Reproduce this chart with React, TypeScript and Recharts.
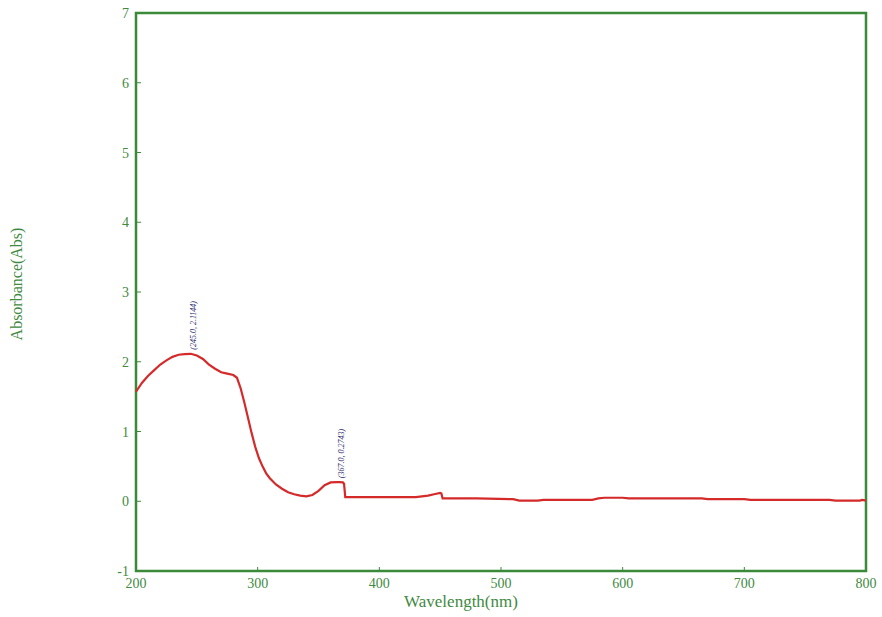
import React from 'react';
import { LineChart, Line, XAxis, YAxis, ReferenceArea, ReferenceDot } from 'recharts';

const wavelengths = [200,205,210,215,220,225,230,235,240,245,250,255,260,265,270,275,280,283,286,289,292,295,298,301,304,307,310,315,320,325,330,335,340,345,350,355,360,365,367,370,371,372,400,430,440,445,450,451,452,480,510,515,530,535,575,580,585,600,605,665,670,700,705,770,775,795,797,800];
const absorbance = [1.57,1.70,1.80,1.88,1.96,2.02,2.07,2.10,2.11,2.114,2.09,2.04,1.96,1.90,1.85,1.83,1.81,1.77,1.62,1.42,1.20,0.98,0.78,0.62,0.50,0.40,0.33,0.24,0.18,0.13,0.10,0.08,0.07,0.09,0.15,0.23,0.27,0.275,0.2743,0.27,0.25,0.06,0.06,0.06,0.08,0.10,0.12,0.11,0.04,0.04,0.03,0.01,0.01,0.02,0.02,0.04,0.05,0.05,0.04,0.04,0.03,0.03,0.02,0.02,0.01,0.01,0.02,0.01];

const xTicks = [200,300,400,500,600,700,800];
const yTicks = [-1,0,1,2,3,4,5,6,7];

const peaks = [
  { x: 245, y: 2.1144, label: '(245.0, 2.1144)' },
  { x: 367, y: 0.2743, label: '(367.0, 0.2743)' },
];

const data = wavelengths.map((w, i) => ({ w, a: absorbance[i] }));

const GREEN = '#3a8a3a';
const TEXT_GREEN = '#418a3f';
const FONT = '"Liberation Serif", "Times New Roman", serif';

const YTick = (props: any) => {
  const { x, y, payload } = props;
  return (
    <g>
      <text x={x} y={y} dy={5} textAnchor="end" fill={TEXT_GREEN} fontSize={14} fontFamily={FONT}>{payload.value}</text>
      {payload.value !== -1 && payload.value !== 7 && (
        <line x1={x + 7} x2={x + 12} y1={y} y2={y} stroke={GREEN} strokeWidth={1} />
      )}
    </g>
  );
};

const XTick = (props: any) => {
  const { x, y, payload } = props;
  return (
    <g>
      <text x={x} y={y} dy={12} textAnchor="middle" fill={TEXT_GREEN} fontSize={14} fontFamily={FONT}>{payload.value}</text>
      {payload.value !== 200 && payload.value !== 800 && (
        <line x1={x} x2={x} y1={y - 5} y2={y - 9} stroke={GREEN} strokeWidth={1} />
      )}
    </g>
  );
};

const PeakLabel = (text: string) => (props: any) => {
  const { cx, cy } = props;
  const tx = cx + 5;
  const ty = cy - 4;
  return (
    <text x={tx} y={ty} transform={`rotate(-90, ${tx}, ${ty})`} textAnchor="start" fontSize={8} fontStyle="italic" fill="#2b2b70" fontFamily={FONT}>{text}</text>
  );
};

export default function App() {
  return (
    <div style={{ position: 'absolute', left: 0, top: 0, background: '#fff' }}>
      <LineChart width={882} height={617} data={data} margin={{ top: 13, right: 16, left: 0, bottom: 0 }}>
        <XAxis
          dataKey="w"
          type="number"
          domain={[200, 800]}
          ticks={xTicks}
          height={46}
          axisLine={false}
          tickLine={false}
          tickSize={0}
          tickMargin={5}
          tick={<XTick />}
          label={{
            content: (p: any) => {
              const vb = p.viewBox;
              return (
                <text x={vb.x + vb.width / 2 - 40} y={vb.y + 36} textAnchor="middle" fill={TEXT_GREEN} fontSize={17} fontFamily={FONT}>Wavelength(nm)</text>
              );
            },
          }}
        />
        <YAxis
          type="number"
          domain={[-1, 7]}
          ticks={yTicks}
          width={136}
          axisLine={false}
          tickLine={false}
          tickSize={0}
          tickMargin={7}
          tick={<YTick />}
          label={{
            content: (p: any) => {
              const vb = p.viewBox;
              const cx = 22;
              const cy = vb.y + vb.height / 2 - 8;
              return (
                <text x={cx} y={cy} transform={`rotate(-90, ${cx}, ${cy})`} textAnchor="middle" fill={TEXT_GREEN} fontSize={16} fontFamily={FONT}>Absorbance(Abs)</text>
              );
            },
          }}
        />
        <ReferenceArea x1={200} x2={800} y1={-1} y2={7} fill="none" stroke={GREEN} strokeWidth={2.5} fillOpacity={0} />
        <Line type="linear" dataKey="a" stroke="#d42a2a" strokeWidth={2.2} dot={false} isAnimationActive={false} />
        {peaks.map((p) => (
          <ReferenceDot key={p.label} x={p.x} y={p.y} r={0} shape={PeakLabel(p.label)} />
        ))}
      </LineChart>
    </div>
  );
}
